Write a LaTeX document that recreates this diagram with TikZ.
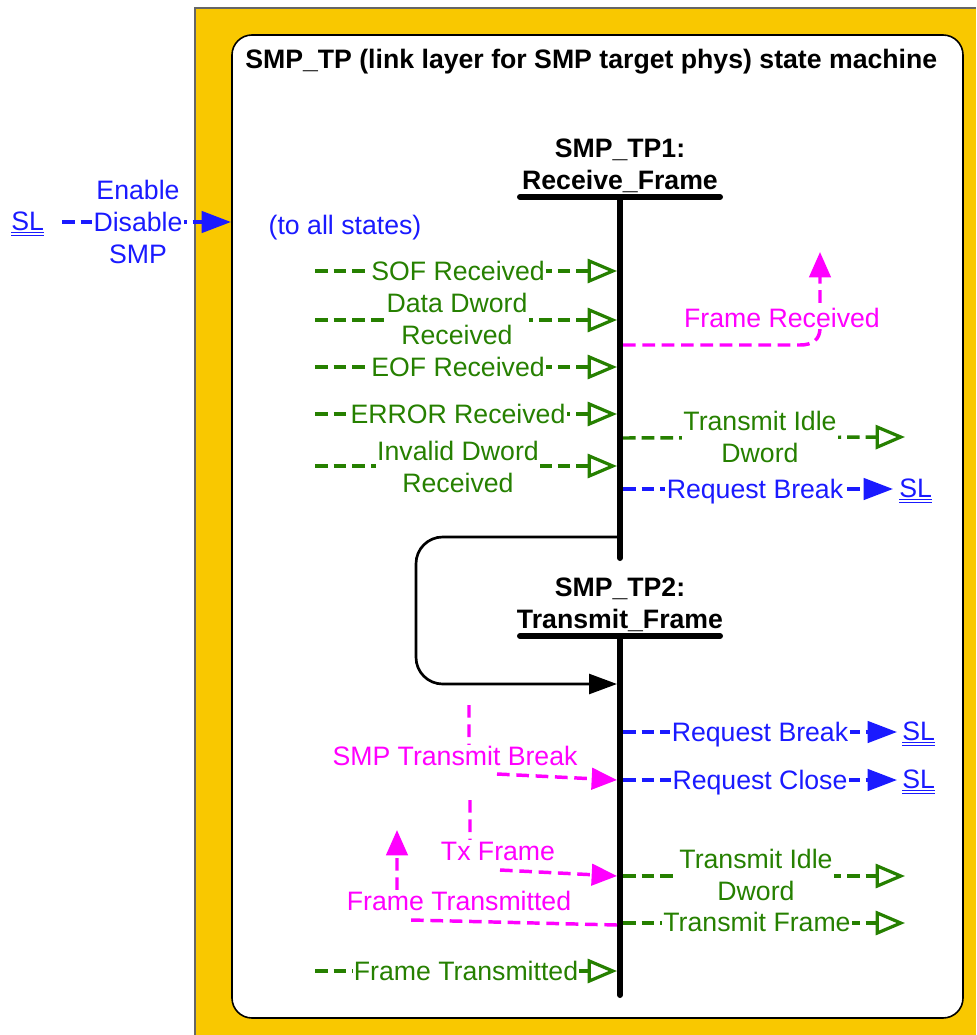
\documentclass[tikz,border=0pt]{standalone}
\usepackage{fontspec}
\setmainfont{Liberation Sans}
\usetikzlibrary{arrows.meta}
\definecolor{cgreen}{RGB}{38,128,0}
\definecolor{cblue}{RGB}{26,26,255}
\definecolor{cmag}{RGB}{255,0,255}
\definecolor{cyel}{RGB}{249,200,0}
\newcommand\dul[1]{\underline{\underline{#1}}}
\begin{document}
\begin{tikzpicture}[x=0.75pt,y=-0.75pt,
  font=\fontsize{20}{24}\selectfont,
  gline/.style={cgreen, line width=2.6pt, dash pattern=on 9.5pt off 4.5pt,
    -{Triangle[open,length=22pt,width=18pt,line width=2.4pt]}},
  bline/.style={cblue, line width=2.6pt, dash pattern=on 9.5pt off 4.5pt,
    -{Triangle[length=22pt,width=16pt]}},
  mline/.style={cmag, line width=2.6pt, dash pattern=on 9.5pt off 5pt,
    -{Triangle[length=19pt,width=16pt]}},
  gtext/.style={text=cgreen, fill=white, inner sep=1pt, align=center},
  btext/.style={text=cblue, fill=white, inner sep=1pt, align=center},
  mtext/.style={text=cmag, fill=white, inner sep=1pt, align=center},
  sltext/.style={text=cblue, inner sep=0pt, anchor=base west},
  statetext/.style={font=\fontsize{20}{24}\selectfont\bfseries, align=center, inner sep=0pt},
  bar/.style={line width=4.5pt, line cap=round},
  loopline/.style={line width=2pt, rounded corners=20pt, -{Triangle[length=21pt,width=15pt]}}
]
\useasboundingbox (0,0) rectangle (976,1035);
% frame
\fill[cyel] (195,8) rectangle (976,1035);
\draw[gray!80!black, line width=1.2pt] (195,1035) -- (195,8) -- (976,8);
\draw[fill=white, line width=1.2pt, rounded corners=15pt] (232,35) rectangle (963,1018);
\node[font=\fontsize{20}{24}\selectfont\bfseries, anchor=west, inner sep=0pt] (title) at (245,62)
  {SMP\_TP (link layer for SMP target phys) state machine};

% states
\node[statetext] (s1) at (620,166) {SMP\_TP1:\\Receive\_Frame};
\coordinate (b1l) at (520,197); \coordinate (b1r) at (720,197);
\coordinate (v1t) at (620,197); \coordinate (v1b) at (620,558);
\draw[bar] (b1l) -- (b1r);
\draw[bar] (v1t) -- (v1b);

\node[statetext] (s2) at (620,605) {SMP\_TP2:\\Transmit\_Frame};
\coordinate (b2l) at (520,636); \coordinate (b2r) at (720,636);
\coordinate (v2t) at (620,636); \coordinate (v2b) at (620,995);
\draw[bar] (b2l) -- (b2r);
\draw[bar] (v2t) -- (v2b);

% loop transition
\coordinate (l0) at (620,537); \coordinate (l1) at (416,537);
\coordinate (l2) at (416,684); \coordinate (l3) at (617,684);
\draw[loopline] (l0) -- (l1) -- (l2) -- (l3);

% Enable Disable SMP
\node[sltext] (sl0) at (11,230) {\dul{SL}};
\coordinate (e0) at (62,222); \coordinate (e1) at (231,222);
\draw[bline] (e0) -- (e1);
\node[btext] (eds) at (138,222) {Enable\\Disable\\SMP};
\node[text=cblue, inner sep=0pt] (toall) at (345,228) {(to all states)};

% green inputs to TP1
\coordinate (i1s) at (315,271); \coordinate (i1e) at (617,271);
\draw[gline] (i1s) -- (i1e);
\node[gtext] (i1) at (458,271) {SOF Received};
\coordinate (i2s) at (315,320); \coordinate (i2e) at (617,320);
\draw[gline] (i2s) -- (i2e);
\node[gtext] (i2) at (457,319) {Data Dword\\Received};
\coordinate (i3s) at (315,367); \coordinate (i3e) at (617,367);
\draw[gline] (i3s) -- (i3e);
\node[gtext] (i3) at (458,367) {EOF Received};
\coordinate (i4s) at (315,414); \coordinate (i4e) at (617,414);
\draw[gline] (i4s) -- (i4e);
\node[gtext] (i4) at (458,414) {ERROR Received};
\coordinate (i5s) at (315,466); \coordinate (i5e) at (617,466);
\draw[gline] (i5s) -- (i5e);
\node[gtext] (i5) at (458,467) {Invalid Dword\\Received};

% Frame Received
\coordinate (fr0) at (623,345); \coordinate (fr1) at (820,252);
\draw[mline] (fr0) -- (800,345) .. controls (812,345) and (820,340) .. (820,328) -- (fr1);
\node[mtext] (frt) at (782,318) {Frame Received};

% TP1 outputs
\coordinate (o1s) at (623,438); \coordinate (o1e) at (905,437);
\draw[gline] (o1s) -- (o1e);
\node[gtext] (o1) at (760,437) {Transmit Idle\\Dword};
\coordinate (o2s) at (623,489); \coordinate (o2e) at (893,489);
\draw[bline] (o2s) -- (o2e);
\node[btext] (o2) at (755,492) {Request Break};
\node[sltext] (sl1) at (899,497) {\dul{SL}};

% TP2 outputs
\coordinate (o3s) at (623,732); \coordinate (o3e) at (897,732);
\draw[bline] (o3s) -- (o3e);
\node[btext] (o3) at (760,735) {Request Break};
\node[sltext] (sl2) at (902,740) {\dul{SL}};
\coordinate (o4s) at (623,780); \coordinate (o4e) at (897,780);
\draw[bline] (o4s) -- (o4e);
\node[btext] (o4) at (760,783) {Request Close};
\node[sltext] (sl3) at (902,788) {\dul{SL}};
\coordinate (o5s) at (623,876); \coordinate (o5e) at (905,876);
\draw[gline] (o5s) -- (o5e);
\node[gtext] (o5) at (756,875) {Transmit Idle\\Dword};
\coordinate (o6s) at (623,923); \coordinate (o6e) at (905,923);
\draw[gline] (o6s) -- (o6e);
\node[gtext] (o6) at (757,922) {Transmit Frame};

% magenta inputs to TP2
\coordinate (m1s) at (469,705); \coordinate (m1e) at (617,780);
\draw[mline] (m1s) -- (469,748) (497,774) -- (m1e);
\node[mtext] (m1) at (455,756) {SMP Transmit Break};
\coordinate (m2s) at (470,800); \coordinate (m2e) at (617,876);
\draw[mline] (m2s) -- (470,845) (500,870) -- (m2e);
\node[mtext] (m2) at (498,851) {Tx Frame};
\coordinate (m3s) at (617,925); \coordinate (m3e) at (397,830);
\draw[mline] (m3s) -- (411,920) (397,890) -- (m3e);
\node[mtext] (m3) at (459,901) {Frame Transmitted};

% green input to TP2
\coordinate (i6s) at (315,971); \coordinate (i6e) at (617,971);
\draw[gline] (i6s) -- (i6e);
\node[gtext] (i6) at (466,971) {Frame Transmitted};
\end{tikzpicture}
\end{document}
